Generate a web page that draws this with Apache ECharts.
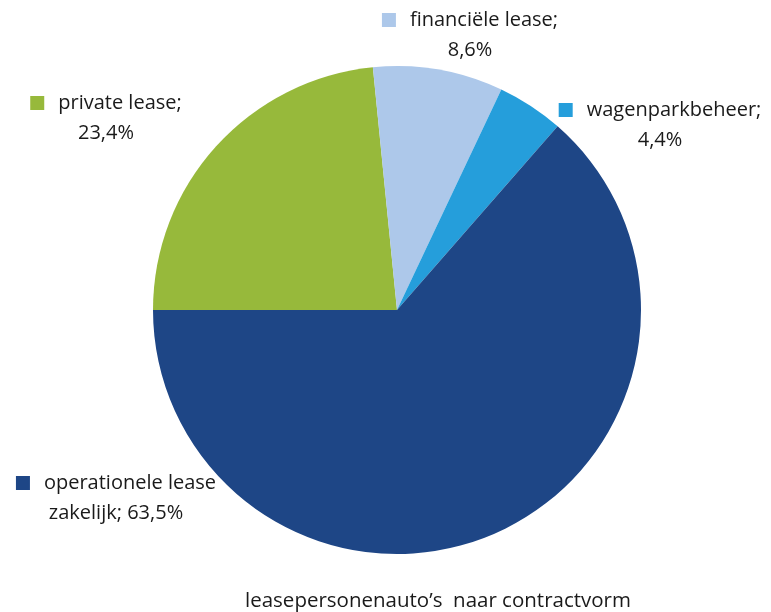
<!DOCTYPE html>
<html>
<head>
<meta charset="utf-8">
<script src="https://cdn.jsdelivr.net/npm/echarts@6/dist/echarts.min.js"></script>
<style>
	html, body { margin: 0; padding: 0; background: #ffffff; }
	#pie { width: 771px; height: 612px; }
</style>
</head>
<body>
<div id="pie"></div>
<script>
	// categories in drawing order (clockwise from 9 o'clock)
	var categories = ['private lease;', 'financiële lease;', 'wagenparkbeheer;', 'operationele lease\nzakelijk;'];
	var shares = [23.4, 8.6, 4.4, 63.5];
	var colors = ['#97b93b', '#adc8ea', '#259edb', '#1e4686'];
	// label block centres
	var labelPos = [[106, 118], [470, 35], [660, 125], [116, 498]];

	var pieData = [];
	for (var i = 0; i < categories.length; i++) {
		pieData.push({ name: categories[i], value: shares[i], itemStyle: { color: colors[i] } });
	}

	function fmt(v) {
		return v.toFixed(1).replace('.', ',') + '%';
	}

	var chart = echarts.init(document.getElementById('pie'));
	chart.setOption({
		animation: false,
		title: {
			text: 'leasepersonenauto’s  naar contractvorm',
			left: 433,
			top: 596,
			textAlign: 'center',
			textVerticalAlign: 'middle',
			textStyle: { fontFamily: 'Open Sans', fontSize: 20.5, fontWeight: 'normal', color: '#1a1a1a' }
		},
		series: [{
			type: 'pie',
			center: [397, 310],
			radius: 244,
			startAngle: 180,
			clockwise: true,
			data: pieData,
			itemStyle: { borderWidth: 0 },
			labelLine: { show: false },
			label: {
				show: true,
				position: 'outside',
				align: 'center',
				overflow: 'none',
				lineHeight: 30,
				fontFamily: 'Open Sans',
				fontSize: 20,
				color: '#1a1a1a',
				formatter: function (p) {
					var parts = p.name.split('\n');
					var sq = '{s' + p.dataIndex + '|}{g|}';
					if (parts.length > 1) {
						return sq + parts[0] + '\n' + parts[1] + ' ' + fmt(p.value);
					}
					return sq + parts[0] + '\n' + fmt(p.value);
				},
				rich: {
					s0: { width: 14, height: 14, backgroundColor: colors[0] },
					s1: { width: 14, height: 14, backgroundColor: colors[1] },
					s2: { width: 14, height: 14, backgroundColor: colors[2] },
					s3: { width: 14, height: 14, backgroundColor: colors[3] },
					g: { width: 14 }
				}
			},
			labelLayout: function (p) {
				var pos = labelPos[p.dataIndex];
				return { x: pos[0], y: pos[1], align: 'center', verticalAlign: 'middle' };
			}
		}]
	});
</script>
</body>
</html>
